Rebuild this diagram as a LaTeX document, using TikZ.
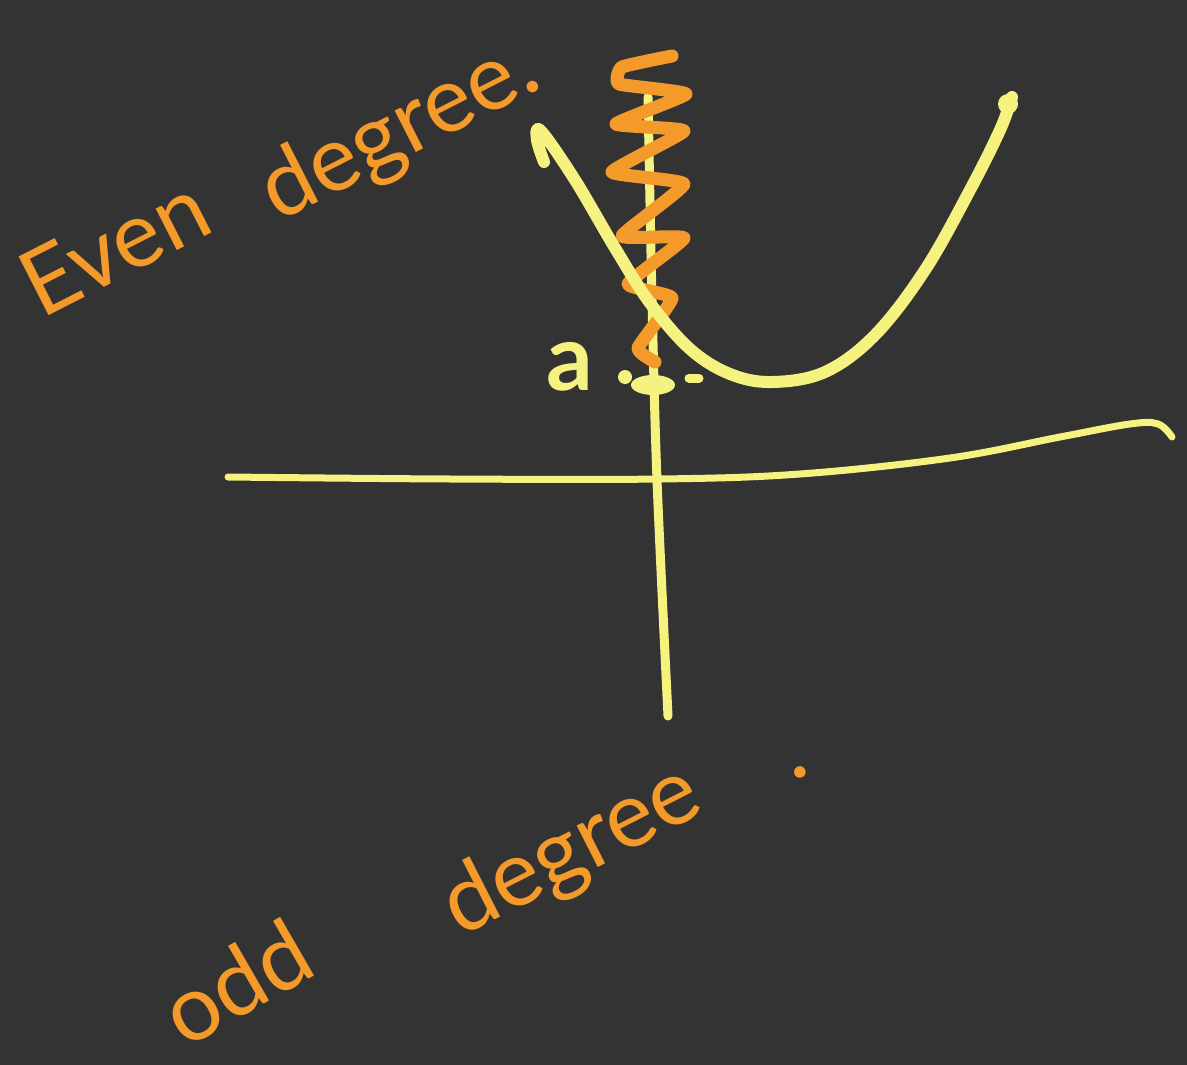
\documentclass[tikz,border=0pt]{standalone}
\usepackage{fontspec}
\setmainfont{Lato}
\definecolor{bg}{HTML}{333333}
\definecolor{chalkyellow}{HTML}{F6F280}
\definecolor{chalkorange}{HTML}{F39A2A}
\begin{document}
\begin{tikzpicture}[x=1pt,y=-1pt,
  ylw/.style={draw=chalkyellow,line cap=round,line join=round},
  org/.style={draw=chalkorange,line cap=round,line join=round,line width=13pt},
  hand/.style={text=chalkorange,font=\fontsize{92}{92}\selectfont,inner sep=0pt}]
\fill[bg] (0,0) rectangle (1187,1065);
\useasboundingbox (0,0) rectangle (1187,1065);
% horizontal axis
\draw[ylw,line width=7pt] plot[smooth,tension=0.6] coordinates {(228,477) (450,479) (660,479) (800,474) (950,458) (1060,437) (1130,424) (1158,424) (1172,437)};
% vertical axis
\draw[ylw,line width=9pt] plot[smooth] coordinates {(648,97) (652,300) (657,480) (668,716)};
% zigzag
\draw[org] plot[smooth,tension=0.25] coordinates {(672,56) (622,67) (619,84) (686,94) (616,124) (684,131) (612,172) (684,184) (622,236) (684,238) (628,284) (672,298) (638,348) (655,362)};
% parabola
\draw[ylw,line width=12pt] plot[smooth,tension=0.6] coordinates {(544,162) (537,140) (541,131) (575,180) (615,248) (650,303) (690,349) (730,374) (772,382) (825,372) (875,335) (925,270) (970,190) (1000,130) (1012,97)};
\fill[chalkyellow] (1008,104) circle (10);
% label a and dashes
\node[text=chalkyellow,font=\fontsize{92}{92}\selectfont\bfseries,inner sep=0pt] (a) at (570,367) {a};
\fill[chalkyellow] (625,377) circle (7);
\fill[chalkyellow] (653,385) ellipse (22 and 10);
\draw[ylw,line width=9pt] (689,378) -- (699,378);
% texts
\node[hand,rotate=27] (even) at (114,246) {Even};
\node[hand,rotate=27] (deg1) at (400,132) {degree.};
\node[hand,rotate=30] (odd) at (236,982) {odd};
\node[hand,rotate=27] (deg2) at (572,852) {degree};
\node[hand] (dot2) at (800,772) {.};
\end{tikzpicture}
\end{document}
